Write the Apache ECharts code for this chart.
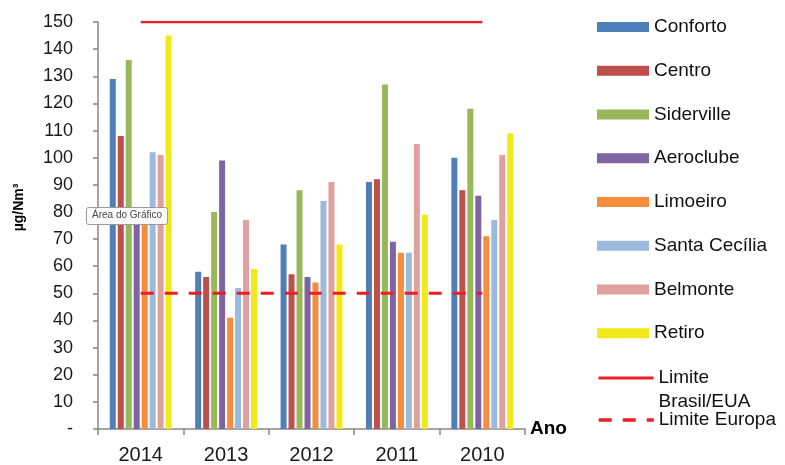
<!DOCTYPE html>
<html><head><meta charset="utf-8">
<script src="https://cdn.jsdelivr.net/npm/echarts@6/dist/echarts.min.js"></script>
<style>html,body{margin:0;padding:0;background:#fff}#c{width:785px;height:465px}</style>
</head><body><div id="c"></div>
<script>
const years = ['2014', '2013', '2012', '2011', '2010'];
const conforto = [129, 58, 68, 91, 100];
const centro = [108, 56, 57, 92, 88];
const siderville = [136, 80, 88, 127, 118];
const aeroclube = [79, 99, 56, 69, 86];
const limoeiro = [77, 41, 54, 65, 71];
const santaCecilia = [102, 52, 84, 65, 77];
const belmonte = [101, 77, 91, 105, 101];
const retiro = [145, 59, 68, 79, 109];
const limiteBrasil = [150, 150, 150, 150, 150];
const limiteEuropa = [50, 50, 50, 50, 50];
const yMin = 0, yMax = 150, yStep = 10;

const barNames = ['Conforto', 'Centro', 'Siderville', 'Aeroclube', 'Limoeiro', 'Santa Cecília', 'Belmonte', 'Retiro'];
const barData = [conforto, centro, siderville, aeroclube, limoeiro, santaCecilia, belmonte, retiro];
const barColors = ['#4F7FB8', '#BE4F4C', '#98B65A', '#7E64A0', '#F68D3D', '#9CBADD', '#E0A09D', '#F2EA18'];

const font = 'Liberation Sans, Arial, sans-serif';
const series = barNames.map((n, i) => ({
  name: n, type: 'bar', data: barData[i], barWidth: 6, barGap: '33%',
  itemStyle: { color: barColors[i] }
}));
series.push({
  name: 'Limite Brasil/EUA', type: 'line', data: limiteBrasil, symbol: 'none',
  lineStyle: { color: '#EE1C24', width: 2.5 }, itemStyle: { color: '#EE1C24' }, z: 5
});
series.push({
  name: 'Limite Europa', type: 'line', data: limiteEuropa, symbol: 'none',
  lineStyle: { color: '#EE1C24', width: 3, type: [13, 11] }, itemStyle: { color: '#EE1C24' }, z: 5
});

const chart = echarts.init(document.getElementById('c'));
chart.setOption({
  animation: false,
  textStyle: { fontFamily: font },
  grid: { left: 98, top: 22, width: 427, height: 408, containLabel: false },
  xAxis: {
    type: 'category', data: years,
    axisLine: { lineStyle: { color: '#868686', width: 1.5 } },
    axisTick: { show: true, length: 6, lineStyle: { color: '#868686', width: 1.5 } },
    axisLabel: { fontSize: 20, color: '#1a1a1a', margin: 16, fontFamily: font },
    name: 'Ano', nameLocation: 'end', nameGap: 5,
    nameTextStyle: { fontSize: 19, fontWeight: 'bold', color: '#000', fontFamily: font, padding: [0, 0, 16, 0] }
  },
  yAxis: {
    type: 'value', min: yMin, max: yMax, interval: yStep,
    axisLine: { show: true, lineStyle: { color: '#868686', width: 1.5 } },
    axisTick: { show: true, length: 5, lineStyle: { color: '#868686', width: 1.5 } },
    splitLine: { show: false },
    axisLabel: { fontSize: 18, color: '#1a1a1a', margin: 25, fontFamily: font, formatter: v => v === 0 ? '-' : String(v) },
    name: 'µg/Nm³', nameLocation: 'middle', nameRotate: 90, nameGap: 72,
    nameTextStyle: { fontSize: 14, fontWeight: 'bold', color: '#000', fontFamily: font, padding: [0, 0, 0, 36] }
  },
  legend: [
    {
      data: barNames, orient: 'vertical', left: 597, top: 17, padding: 0,
      itemWidth: 52, itemHeight: 10, itemGap: 23.75, icon: 'rect',
      textStyle: { fontSize: 19, lineHeight: 20, color: '#111', fontFamily: font }
    },
    {
      data: ['Limite Brasil/EUA'], orient: 'vertical', left: 597, top: 342, padding: 0,
      itemWidth: 55, itemHeight: 10, itemStyle: { opacity: 0 }, lineStyle: { width: 3 },
      formatter: () => '\nLimite\nBrasil/EUA',
      textStyle: { fontSize: 19, lineHeight: 24, color: '#111', fontFamily: font }
    },
    {
      data: ['Limite Europa'], orient: 'vertical', left: 597, top: 410, padding: 0,
      itemWidth: 55, itemHeight: 10, itemStyle: { opacity: 0 }, lineStyle: { width: 3.5 },
      textStyle: { fontSize: 19, lineHeight: 20, color: '#111', fontFamily: font }
    }
  ],
  graphic: [
    { type: 'rect', left: 86, top: 207, z: 100, shape: { width: 81, height: 17, r: 2 }, style: { fill: '#fafafa', stroke: '#9a9a9a', lineWidth: 1 } },
    { type: 'text', left: 92, top: 210, z: 101, style: { text: 'Área do Gráfico', font: '10px Liberation Sans, Arial, sans-serif', fill: '#4a4a4a' } }
  ],
  series: series
});
</script>
</body></html>
